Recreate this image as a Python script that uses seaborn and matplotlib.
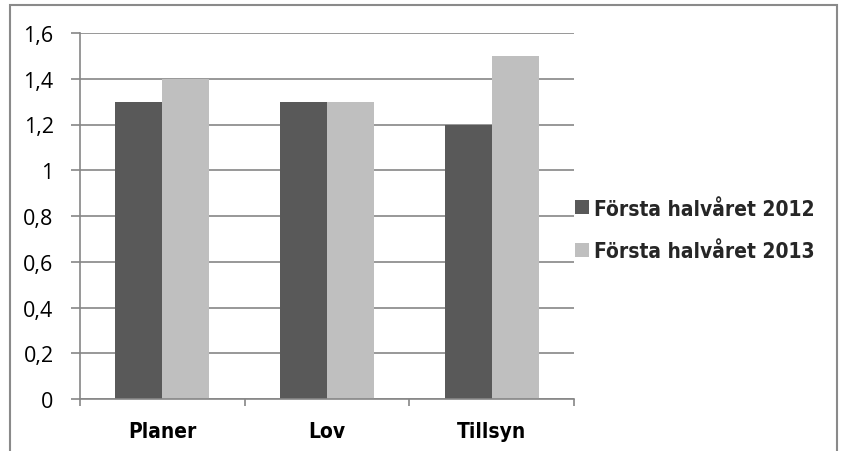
import matplotlib
matplotlib.use("Agg")
import matplotlib.pyplot as plt
import seaborn as sns
import pandas as pd
from matplotlib import font_manager as fm
from matplotlib.font_manager import FontProperties
from matplotlib.patches import Rectangle, Patch

categories = ["Planer", "Lov", "Tillsyn"]
series_names = ["Första halvåret 2012", "Första halvåret 2013"]
values_2012 = [1.3, 1.3, 1.2]
values_2013 = [1.4, 1.3, 1.5]
y_ticks = [0, 0.2, 0.4, 0.6, 0.8, 1, 1.2, 1.4, 1.6]
y_tick_labels = ["0", "0,2", "0,4", "0,6", "0,8", "1", "1,2", "1,4", "1,6"]

df = pd.DataFrame({
    "kategori": categories * 2,
    "serie": [series_names[0]] * 3 + [series_names[1]] * 3,
    "värde": values_2012 + values_2013,
})

sns.set_theme(style="white")
plt.rcParams["font.family"] = ["Open Sans", "DejaVu Sans"]

# bold condensed face for category and legend text
has_condensed = any(f.name == "DejaVu Sans" and f.stretch == "condensed"
                    for f in fm.fontManager.ttflist)
bold_size = 15 if has_condensed else 13.6
bold_font = FontProperties(family="DejaVu Sans", weight="bold",
                           stretch="condensed", size=bold_size)

colors = ["#595959", "#BFBFBF"]
grid_col = "#868686"

fig = plt.figure(figsize=(8.41, 4.52), dpi=100)
ax = fig.add_axes([80 / 841, 1 - 400 / 452, (574 - 80) / 841, (400 - 34) / 452])

sns.barplot(data=df, x="kategori", y="värde", hue="serie", palette=colors,
            width=0.57, saturation=1, ax=ax, legend=False, edgecolor="none")

ax.set_ylim(0, 1.6)
ax.set_xlim(-0.5, 2.5)
ax.set_yticks(y_ticks)
ax.set_yticklabels(y_tick_labels)
ax.yaxis.grid(True, color=grid_col, linewidth=1.2)
ax.set_axisbelow(True)
ax.set_xlabel("")
ax.set_ylabel("")

for s in ["top", "right"]:
    ax.spines[s].set_visible(False)
for s in ["left", "bottom"]:
    ax.spines[s].set_color(grid_col)
    ax.spines[s].set_linewidth(1.2)

# y ticks: short outward marks; x ticks at category boundaries
ax.tick_params(axis="y", length=6.5, width=1.2, color=grid_col, labelsize=15.5,
               labelcolor="black", pad=12.5, left=True)
ax.set_xticks([-0.5, 0.5, 1.5, 2.5], minor=True)
ax.tick_params(axis="x", which="minor", length=5, width=1.2, color=grid_col,
               direction="out", bottom=True)
ax.tick_params(axis="x", which="major", length=0, pad=15.5)
for lbl in ax.get_xticklabels():
    lbl.set_fontproperties(bold_font)
    lbl.set_color("black")

handles = [Patch(facecolor=c, edgecolor="none") for c in colors]
leg = fig.legend(handles, series_names, loc="center left",
                 bbox_to_anchor=(575 / 841, 1 - 231 / 452), frameon=False,
                 borderpad=0, borderaxespad=0,
                 handlelength=0.68, handleheight=0.68, handletextpad=0.25,
                 labelspacing=1.1, prop=bold_font)

fig.patches.append(Rectangle((10 / 841, -0.1), (837 - 10) / 841, 1.1 - 6 / 452,
                             transform=fig.transFigure, fill=False,
                             edgecolor="#8A8A8A", linewidth=1.5))

fig.savefig("out.png", dpi=100)
